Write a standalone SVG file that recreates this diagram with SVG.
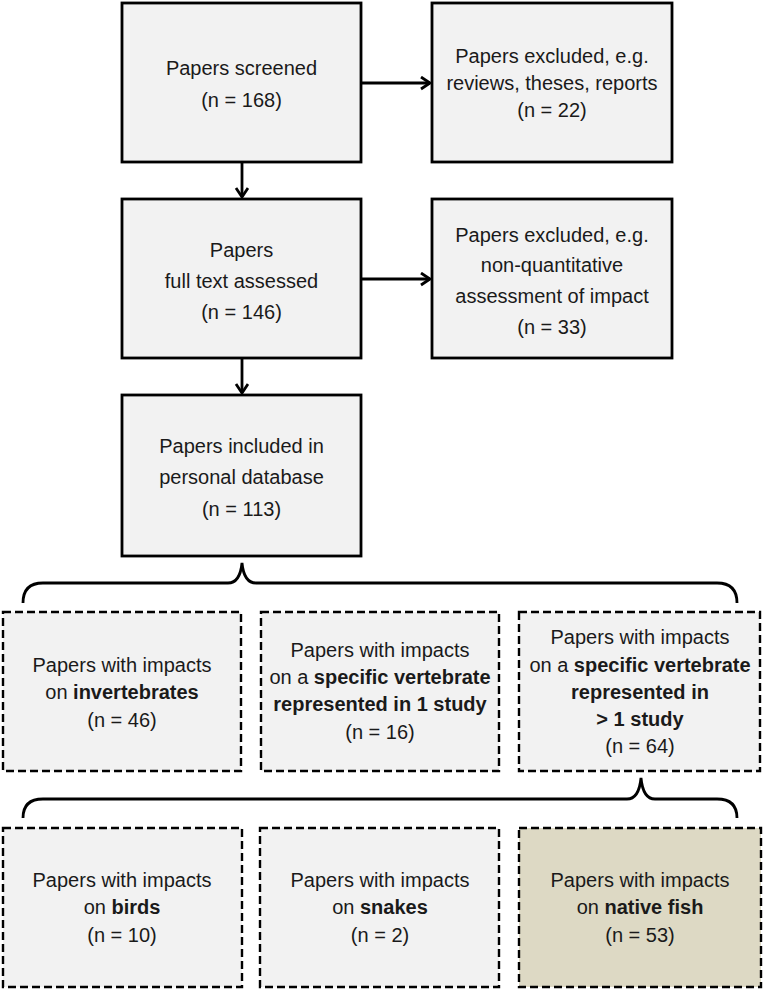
<svg xmlns="http://www.w3.org/2000/svg" width="765" height="990" viewBox="0 0 765 990">
<style>
.solid{fill:#f2f2f2;stroke:#000;stroke-width:2.8}
.dash{fill:#f2f2f2;stroke:#000;stroke-width:2.4;stroke-dasharray:8 4}
.fish{fill:#ddd9c4}
text{font-family:"Liberation Sans",Arial,sans-serif;font-size:20px;fill:#1a1a1a;text-anchor:middle}
.b{font-weight:bold}
.conn{fill:none;stroke:#000;stroke-width:2.8}
</style>
<defs>
<marker id="arr" markerUnits="userSpaceOnUse" markerWidth="14" markerHeight="16" refX="10" refY="7" orient="auto">
<path d="M1,1 L10,7 L1,13" fill="none" stroke="#000" stroke-width="2.8"/>
</marker>
</defs>
<rect width="765" height="990" fill="#fff"/>
<g id="connectors">
<line class="conn" x1="361" y1="83" x2="430" y2="83" marker-end="url(#arr)"/>
<line class="conn" x1="242" y1="162" x2="242" y2="197" marker-end="url(#arr)"/>
<line class="conn" x1="361" y1="279" x2="430" y2="279" marker-end="url(#arr)"/>
<line class="conn" x1="242" y1="358" x2="242" y2="393" marker-end="url(#arr)"/>
<path class="conn" d="M23,603 Q23,583 43,583 L228,583 Q240,583 242,563 Q244,583 256,583 L717,583 Q737,583 737,603"/>
<path class="conn" d="M23,818 Q23,799 43,799 L627,799 Q639,799 641,778 Q643,799 655,799 L717,799 Q737,799 737,818"/>
</g>
<g id="screened">
<rect class="solid" x="122" y="3" width="239" height="159"/>
<text x="241.5" y="75">Papers screened</text>
<text x="241.5" y="107">(n = 168)</text>
</g>
<g id="excluded1">
<rect class="solid" x="432" y="3" width="240" height="159"/>
<text x="552" y="63">Papers excluded, e.g.</text>
<text x="552" y="90">reviews, theses, reports</text>
<text x="552" y="117">(n = 22)</text>
</g>
<g id="fulltext">
<rect class="solid" x="122" y="199" width="239" height="159"/>
<text x="241.5" y="257">Papers</text>
<text x="241.5" y="288">full text assessed</text>
<text x="241.5" y="319">(n = 146)</text>
</g>
<g id="excluded2">
<rect class="solid" x="432" y="199" width="240" height="159"/>
<text x="552" y="242">Papers excluded, e.g.</text>
<text x="552" y="272">non-quantitative</text>
<text x="552" y="303">assessment of impact</text>
<text x="552" y="334">(n = 33)</text>
</g>
<g id="included">
<rect class="solid" x="122" y="395" width="239" height="161"/>
<text x="241.5" y="453">Papers included in</text>
<text x="241.5" y="484">personal database</text>
<text x="241.5" y="516">(n = 113)</text>
</g>
<g id="invertebrates">
<rect class="dash" x="3" y="612" width="238" height="159"/>
<text x="122" y="672">Papers with impacts</text>
<text x="122" y="699">on <tspan class="b">invertebrates</tspan></text>
<text x="122" y="727">(n = 46)</text>
</g>
<g id="vert1">
<rect class="dash" x="261" y="612" width="238" height="159"/>
<text x="380" y="657">Papers with impacts</text>
<text x="380" y="684">on a <tspan class="b">specific vertebrate</tspan></text>
<text x="380" y="711" class="b">represented in 1 study</text>
<text x="380" y="739">(n = 16)</text>
</g>
<g id="vert2">
<rect class="dash" x="519" y="612" width="241" height="159"/>
<text x="640" y="644">Papers with impacts</text>
<text x="640" y="672">on a <tspan class="b">specific vertebrate</tspan></text>
<text x="640" y="699" class="b">represented in</text>
<text x="640" y="726" class="b">&gt; 1 study</text>
<text x="640" y="753">(n = 64)</text>
</g>
<g id="birds">
<rect class="dash" x="3" y="828" width="239" height="159"/>
<text x="122" y="887">Papers with impacts</text>
<text x="122" y="914">on <tspan class="b">birds</tspan></text>
<text x="122" y="942">(n = 10)</text>
</g>
<g id="snakes">
<rect class="dash" x="260" y="828" width="239" height="159"/>
<text x="380" y="887">Papers with impacts</text>
<text x="380" y="914">on <tspan class="b">snakes</tspan></text>
<text x="380" y="942">(n = 2)</text>
</g>
<g id="fish">
<rect class="dash fish" x="519" y="828" width="242" height="159"/>
<text x="640" y="887">Papers with impacts</text>
<text x="640" y="914">on <tspan class="b">native fish</tspan></text>
<text x="640" y="942">(n = 53)</text>
</g>
</svg>
